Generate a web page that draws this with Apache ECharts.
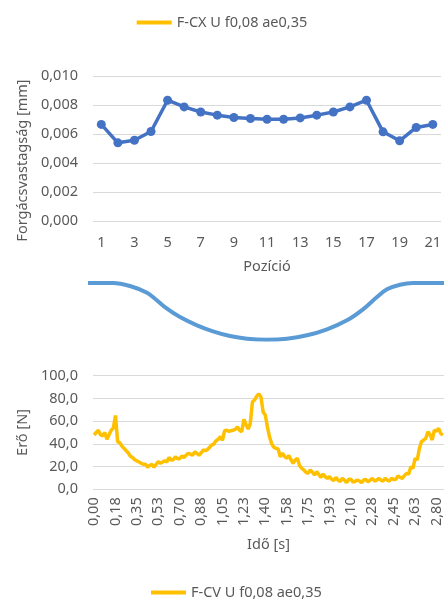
<!DOCTYPE html>
<html>
<head>
<meta charset="utf-8">
<script src="https://cdn.jsdelivr.net/npm/echarts@6/dist/echarts.min.js"></script>
<style>
  html, body { margin: 0; padding: 0; background: #ffffff; }
  #chart { width: 444px; height: 600px; }
</style>
</head>
<body>
<div id="chart"></div>
<script>
// Chip thickness per position along the cut
const positions = ['1','2','3','4','5','6','7','8','9','10','11','12','13','14','15','16','17','18','19','20','21'];
const chipThickness = [0.00666, 0.00539, 0.00557, 0.00617, 0.00833, 0.00787, 0.00752, 0.00730, 0.00714, 0.00707,
  0.00702, 0.00702, 0.00711, 0.00730, 0.00752, 0.00787, 0.00833, 0.00615, 0.00553, 0.00645, 0.00666];

// Workpiece contour (distance along, depth)
const profileX = [0, 25, 42, 59, 67, 79, 92, 109, 125, 142, 159, 179, 199, 219, 239, 259, 275, 289, 299, 312, 325, 356];
const profileDepth = [0, 0, 3, 9.7, 15.7, 25.7, 34, 42.3, 48.3, 53, 55.7, 56.7, 55.7, 52.3, 46.3, 37.3, 26.3, 14, 6.3, 1.7, 0, 0];

// Measured cutting force over time
const force = [
  47.8, 50, 52, 48, 47, 50, 44, 48, 52, 54,
  65, 42, 41, 38, 36, 34, 32, 29, 28, 26,
  25, 24, 23, 22, 22, 19.5, 21, 22, 19.5, 22,
  24.3, 22.9, 24, 25.2, 24, 28, 25.8, 26, 28.7, 27,
  27, 29.3, 28, 30, 31.7, 31, 30, 33, 31.7, 30,
  32, 34.6, 34, 35, 37, 39, 40, 42.8, 44, 46.3,
  43, 51.6, 52, 51, 51.6, 52, 52.8, 55, 52, 50.7,
  61.6, 57, 53, 58, 77, 78.6, 82, 84, 81, 68,
  65.4, 55, 46, 40, 37, 36, 35.5, 28.7, 31.7, 29,
  27.3, 29.6, 26, 22.9, 25.8, 27.3, 21, 18.5, 17, 15,
  14, 17, 15, 12.6, 15.6, 13, 10.5, 13.5, 11, 9.7,
  11, 9, 7.6, 10.5, 8, 6.9, 9.7, 8, 5.9, 8.8,
  8.8, 6.2, 7, 8.2, 7.3, 5.9, 8.2, 8.8, 6.5, 8,
  9.7, 7.3, 8, 9.7, 8, 7.3, 9.7, 8, 7.3, 9.7,
  8.5, 8.8, 11.7, 10.5, 9.7, 12, 14, 13.5, 19.9, 18.5,
  27.3, 25.8, 36, 42, 43.4, 44.9, 50.7, 48, 43.4, 52.2,
  51, 53.7, 49, 47.8
];
const timeTicks = ['0,00','0,18','0,35','0,53','0,70','0,88','1,05','1,23','1,40','1,58','1,75','1,93','2,10','2,28','2,45','2,63','2,80'];
const sampleIndex = force.map((_, i) => String(i));

const textColor = '#595959';
const gridColor = '#D9D9D9';
const font = 'Noto Sans';
const fs = 14.5;
const legendIcon = 'path://M0,0 L35,0 L35,4 L0,4 Z';

const chart = echarts.init(document.getElementById('chart'), null, { renderer: 'canvas' });

const option = {
  animation: false,
  textStyle: { fontFamily: font },
  legend: [
    {
      data: ['F-CX U f0,08 ae0,35'],
      left: 'center', top: 10,
      itemWidth: 35, itemHeight: 4, itemGap: 10,
      icon: legendIcon,
      textStyle: { color: textColor, fontSize: fs, fontFamily: font }
    },
    {
      data: ['F-CV U f0,08 ae0,35'],
      left: 146, top: 580,
      itemWidth: 35, itemHeight: 4,
      icon: legendIcon,
      textStyle: { color: textColor, fontSize: fs, fontFamily: font }
    }
  ],
  grid: [
    { left: 93, right: 0, top: 76, height: 145 },
    { left: 88, right: 0, top: 283, height: 56.7 },
    { left: 93, right: 0, top: 375.7, height: 113.6 }
  ],
  xAxis: [
    {
      gridIndex: 0, type: 'category', data: positions, boundaryGap: true,
      axisLine: { show: false }, axisTick: { show: false },
      axisLabel: { interval: 1, color: textColor, fontSize: fs, fontFamily: font, margin: 14 },
      name: 'Pozíció', nameLocation: 'middle', nameGap: 38,
      nameTextStyle: { color: textColor, fontSize: fs, fontFamily: font }
    },
    {
      gridIndex: 1, type: 'value', min: 0, max: 356, show: false
    },
    {
      gridIndex: 2, type: 'category', data: sampleIndex, boundaryGap: true,
      axisLine: { show: false }, axisTick: { show: false },
      axisLabel: {
        interval: (idx) => idx % 10 === 0,
        formatter: (v, idx) => timeTicks[idx / 10] || '',
        rotate: 90, color: textColor, fontSize: fs, fontFamily: font, margin: 8
      },
      name: 'Idő [s]', nameLocation: 'middle', nameGap: 48,
      nameTextStyle: { color: textColor, fontSize: fs, fontFamily: font }
    }
  ],
  yAxis: [
    {
      gridIndex: 0, type: 'value', min: 0, max: 0.01, interval: 0.002,
      axisLine: { show: false }, axisTick: { show: false },
      splitLine: { lineStyle: { color: gridColor, width: 1 } },
      axisLabel: {
        formatter: (v) => v.toFixed(3).replace('.', ','),
        color: textColor, fontSize: fs, fontFamily: font, margin: 15
      },
      name: 'Forgácsvastagság [mm]', nameLocation: 'middle', nameGap: 60,
      nameTextStyle: { color: textColor, fontSize: fs, fontFamily: font, padding: [0, 24, 0, 0] }
    },
    {
      gridIndex: 1, type: 'value', min: 0, max: 56.7, inverse: true, show: false
    },
    {
      gridIndex: 2, type: 'value', min: 0, max: 100, interval: 20,
      axisLine: { show: false }, axisTick: { show: false },
      splitLine: { lineStyle: { color: gridColor, width: 1 } },
      axisLabel: {
        formatter: (v) => v.toFixed(1).replace('.', ','),
        color: textColor, fontSize: fs, fontFamily: font, margin: 15
      },
      name: 'Erő [N]', nameLocation: 'middle', nameGap: 58,
      nameTextStyle: { color: textColor, fontSize: fs, fontFamily: font }
    }
  ],
  series: [
    {
      name: 'Forgácsvastagság', type: 'line', xAxisIndex: 0, yAxisIndex: 0,
      data: chipThickness,
      symbol: 'circle', symbolSize: 9,
      lineStyle: { color: '#4472C4', width: 3.5 },
      itemStyle: { color: '#4472C4' }
    },
    {
      name: 'Kontúr', type: 'line', xAxisIndex: 1, yAxisIndex: 1,
      data: profileX.map((x, i) => [x, profileDepth[i]]),
      smooth: 0.35, symbol: 'none',
      lineStyle: { color: '#5B9BD5', width: 4 }
    },
    {
      name: 'F-CV U f0,08 ae0,35', type: 'line', xAxisIndex: 2, yAxisIndex: 2,
      data: force, symbol: 'none',
      lineStyle: { color: '#FFC000', width: 3.5 },
      itemStyle: { color: '#FFC000' }
    },
    {
      name: 'F-CX U f0,08 ae0,35', type: 'line', xAxisIndex: 2, yAxisIndex: 2,
      data: [], symbol: 'none',
      lineStyle: { color: '#FFC000', width: 3.5 },
      itemStyle: { color: '#FFC000' }
    }
  ]
};

chart.setOption(option);
</script>
</body>
</html>
